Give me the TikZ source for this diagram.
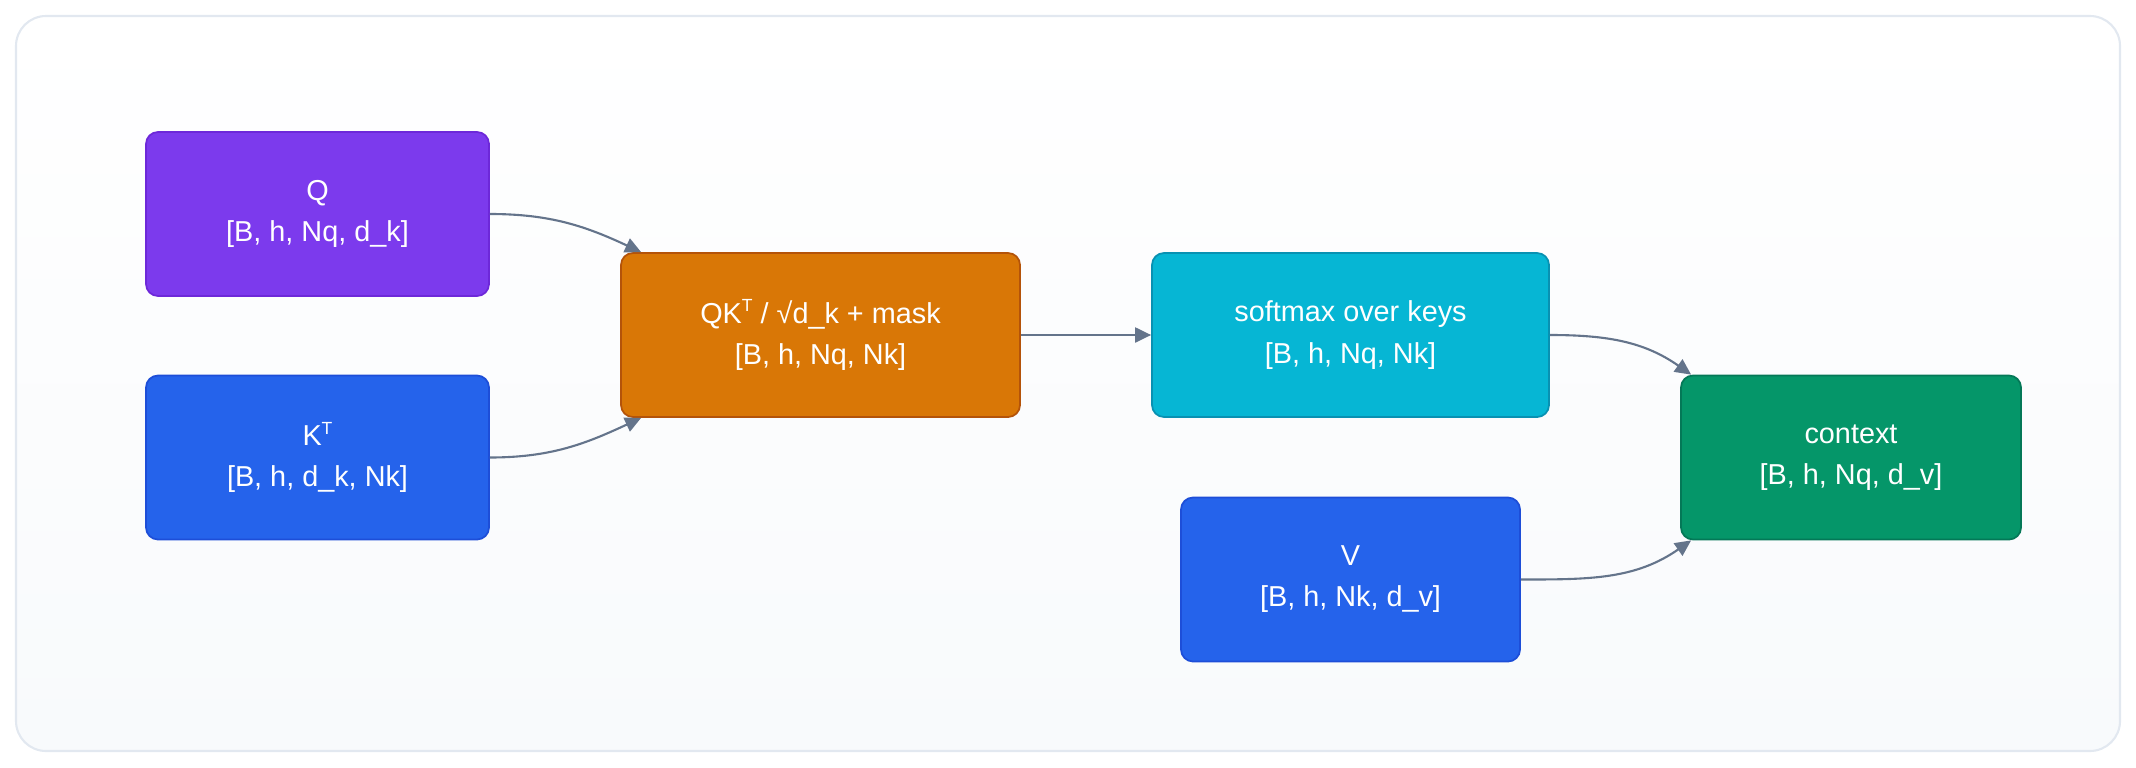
\documentclass[tikz,border=0pt]{standalone}
\usepackage{fontspec}
\setmainfont{Liberation Sans}
\usepackage{tikz}
\usetikzlibrary{arrows.meta}
\definecolor{qfill}{HTML}{7C3AED}
\definecolor{qline}{HTML}{6D28D9}
\definecolor{kvfill}{HTML}{2563EB}
\definecolor{kvline}{HTML}{1D4ED8}
\definecolor{scorefill}{HTML}{D97706}
\definecolor{scoreline}{HTML}{B45309}
\definecolor{smfill}{HTML}{06B6D4}
\definecolor{smline}{HTML}{0891B2}
\definecolor{ctxfill}{HTML}{059669}
\definecolor{ctxline}{HTML}{047857}
\definecolor{edge}{HTML}{64748B}
\definecolor{frameline}{HTML}{E2E8F0}
\definecolor{framebg}{HTML}{F8FAFC}
\newcommand{\transp}{\raisebox{0.75ex}{\fontsize{5}{5}\selectfont T}}
\tikzset{
  tensor/.style={draw, line width=0.5pt, rounded corners=1.2mm, align=center, text=white,
    minimum width=3.43cm, minimum height=1.64cm, font=\fontsize{8.2}{11.7}\selectfont},
  arrow/.style={-{Triangle[length=1.6mm, width=1.5mm]}, line width=0.6pt, draw=edge}
}
\begin{document}
\begin{tikzpicture}
  \useasboundingbox (0,0) rectangle (21.36,-7.68);
  \node[draw=frameline, line width=0.6pt, rounded corners=3mm, top color=white, bottom color=framebg,
    minimum width=21.04cm, minimum height=7.35cm] (frame) at (10.68,-3.835) {};

  \node[tensor, fill=qfill, draw=qline] (q) at (3.175,-2.14) {Q\\{}[B, h, Nq, d\_k]};
  \node[tensor, fill=kvfill, draw=kvline] (kt) at (3.175,-4.575) {K\transp\\{}[B, h, d\_k, Nk]};
  \node[tensor, fill=scorefill, draw=scoreline, minimum width=3.99cm] (scores) at (8.205,-3.35) {QK\transp{} / √d\_k + mask\\{}[B, h, Nq, Nk]};
  \node[tensor, fill=smfill, draw=smline, minimum width=3.97cm] (softmax) at (13.505,-3.35) {softmax over keys\\{}[B, h, Nq, Nk]};
  \node[tensor, fill=kvfill, draw=kvline, minimum width=3.39cm] (v) at (13.505,-5.795) {V\\{}[B, h, Nk, d\_v]};
  \node[tensor, fill=ctxfill, draw=ctxline, minimum width=3.4cm] (ctx) at (18.51,-4.575) {context\\{}[B, h, Nq, d\_v]};

  \draw[arrow] (q.east) to[out=0, in=155] ([xshift=2.1mm]scores.north west);
  \draw[arrow] (kt.east) to[out=0, in=205] ([xshift=2.1mm]scores.south west);
  \draw[arrow] (scores.east) -- (softmax.west);
  \draw[arrow] (softmax.east) to[out=0, in=145] ([xshift=1.1mm]ctx.north west);
  \draw[arrow] (v.east) to[out=0, in=215] ([xshift=1.1mm]ctx.south west);
\end{tikzpicture}
\end{document}
